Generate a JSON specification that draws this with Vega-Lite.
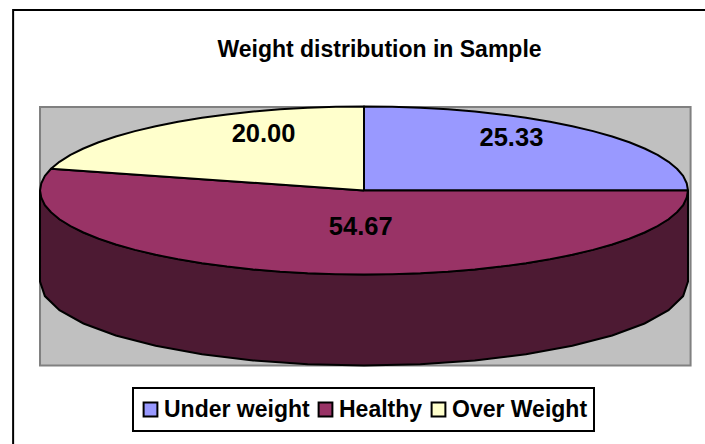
{"$schema":"https://vega.github.io/schema/vega-lite/v6.json","width":705,"height":444,"padding":0,"autosize":{"type":"none"},"background":"white","view":{"stroke":null},
"title":{"text":"Weight distribution in Sample","font":"Liberation Sans","fontWeight":"bold","fontSize":23,"color":"black","anchor":"middle","frame":"group","offset":-62,"dx":27},
"config":{"legend":{"strokeWidth":2}},
"datasets":{
"frame":[{"x":-108.3,"x2":106,"y":214.9,"y2":-304}],
"plot":[{"x":-100,"x2":100.8,"y":99.4,"y2":-208.3}],
"wall":[{"n":1,"x":-100,"y":0},{"n":2,"x":-98.5,"y":-17.4},{"n":3,"x":-94,"y":-34.2},{"n":4,"x":-86.6,"y":-50},{"n":5,"x":-76.6,"y":-64.3},{"n":6,"x":-64.3,"y":-76.6},{"n":7,"x":-50,"y":-86.6},{"n":8,"x":-34.2,"y":-94},{"n":9,"x":-17.4,"y":-98.5},{"n":10,"x":0,"y":-100},{"n":11,"x":17.4,"y":-98.5},{"n":12,"x":34.2,"y":-94},{"n":13,"x":50,"y":-86.6},{"n":14,"x":64.3,"y":-76.6},{"n":15,"x":76.6,"y":-64.3},{"n":16,"x":86.6,"y":-50},{"n":17,"x":94,"y":-34.2},{"n":18,"x":98.5,"y":-17.4},{"n":19,"x":100,"y":0},{"n":20,"x":100,"y":-108.3},{"n":21,"x":98.5,"y":-125.7},{"n":22,"x":94,"y":-142.5},{"n":23,"x":86.6,"y":-158.3},{"n":24,"x":76.6,"y":-172.6},{"n":25,"x":64.3,"y":-184.9},{"n":26,"x":50,"y":-194.9},{"n":27,"x":34.2,"y":-202.3},{"n":28,"x":17.4,"y":-206.8},{"n":29,"x":0,"y":-208.3},{"n":30,"x":-17.4,"y":-206.8},{"n":31,"x":-34.2,"y":-202.3},{"n":32,"x":-50,"y":-194.9},{"n":33,"x":-64.3,"y":-184.9},{"n":34,"x":-76.6,"y":-172.6},{"n":35,"x":-86.6,"y":-158.3},{"n":36,"x":-94,"y":-142.5},{"n":37,"x":-98.5,"y":-125.7},{"n":38,"x":-100,"y":-108.3},{"n":39,"x":-100,"y":0}],
"slices":[
{"p":"Under weight","n":1,"x":0,"y":0},{"p":"Under weight","n":2,"x":0,"y":100},{"p":"Under weight","n":3,"x":8.7,"y":99.6},{"p":"Under weight","n":4,"x":17.4,"y":98.5},{"p":"Under weight","n":5,"x":25.9,"y":96.6},{"p":"Under weight","n":6,"x":34.2,"y":94},{"p":"Under weight","n":7,"x":42.3,"y":90.6},{"p":"Under weight","n":8,"x":50,"y":86.6},{"p":"Under weight","n":9,"x":57.4,"y":81.9},{"p":"Under weight","n":10,"x":64.3,"y":76.6},{"p":"Under weight","n":11,"x":70.7,"y":70.7},{"p":"Under weight","n":12,"x":76.6,"y":64.3},{"p":"Under weight","n":13,"x":81.9,"y":57.4},{"p":"Under weight","n":14,"x":86.6,"y":50},{"p":"Under weight","n":15,"x":90.6,"y":42.3},{"p":"Under weight","n":16,"x":94,"y":34.2},{"p":"Under weight","n":17,"x":96.6,"y":25.9},{"p":"Under weight","n":18,"x":98.5,"y":17.4},{"p":"Under weight","n":19,"x":99.6,"y":8.7},{"p":"Under weight","n":20,"x":100,"y":0},{"p":"Under weight","n":21,"x":0,"y":0},
{"p":"Healthy","n":1,"x":0,"y":0},{"p":"Healthy","n":2,"x":100,"y":0},{"p":"Healthy","n":3,"x":99.6,"y":-8.7},{"p":"Healthy","n":4,"x":98.5,"y":-17.4},{"p":"Healthy","n":5,"x":96.6,"y":-25.9},{"p":"Healthy","n":6,"x":94,"y":-34.2},{"p":"Healthy","n":7,"x":90.6,"y":-42.3},{"p":"Healthy","n":8,"x":86.6,"y":-50},{"p":"Healthy","n":9,"x":81.9,"y":-57.4},{"p":"Healthy","n":10,"x":76.6,"y":-64.3},{"p":"Healthy","n":11,"x":70.7,"y":-70.7},{"p":"Healthy","n":12,"x":64.3,"y":-76.6},{"p":"Healthy","n":13,"x":57.4,"y":-81.9},{"p":"Healthy","n":14,"x":50,"y":-86.6},{"p":"Healthy","n":15,"x":42.3,"y":-90.6},{"p":"Healthy","n":16,"x":34.2,"y":-94},{"p":"Healthy","n":17,"x":25.9,"y":-96.6},{"p":"Healthy","n":18,"x":17.4,"y":-98.5},{"p":"Healthy","n":19,"x":8.7,"y":-99.6},{"p":"Healthy","n":20,"x":0,"y":-100},{"p":"Healthy","n":21,"x":-8.7,"y":-99.6},{"p":"Healthy","n":22,"x":-17.4,"y":-98.5},{"p":"Healthy","n":23,"x":-25.9,"y":-96.6},{"p":"Healthy","n":24,"x":-34.2,"y":-94},{"p":"Healthy","n":25,"x":-42.3,"y":-90.6},{"p":"Healthy","n":26,"x":-50,"y":-86.6},{"p":"Healthy","n":27,"x":-57.4,"y":-81.9},{"p":"Healthy","n":28,"x":-64.3,"y":-76.6},{"p":"Healthy","n":29,"x":-70.7,"y":-70.7},{"p":"Healthy","n":30,"x":-76.6,"y":-64.3},{"p":"Healthy","n":31,"x":-81.9,"y":-57.4},{"p":"Healthy","n":32,"x":-86.6,"y":-50},{"p":"Healthy","n":33,"x":-90.6,"y":-42.3},{"p":"Healthy","n":34,"x":-94,"y":-34.2},{"p":"Healthy","n":35,"x":-96.6,"y":-25.9},{"p":"Healthy","n":36,"x":-98.5,"y":-17.4},{"p":"Healthy","n":37,"x":-99.6,"y":-8.7},{"p":"Healthy","n":38,"x":-100,"y":0},{"p":"Healthy","n":39,"x":-99.6,"y":8.7},{"p":"Healthy","n":40,"x":-98.5,"y":17.4},{"p":"Healthy","n":41,"x":-96.6,"y":25.9},{"p":"Healthy","n":42,"x":0,"y":0},
{"p":"Over Weight","n":1,"x":0,"y":0},{"p":"Over Weight","n":2,"x":-96.6,"y":25.9},{"p":"Over Weight","n":3,"x":-94,"y":34.2},{"p":"Over Weight","n":4,"x":-90.6,"y":42.3},{"p":"Over Weight","n":5,"x":-86.6,"y":50},{"p":"Over Weight","n":6,"x":-81.9,"y":57.4},{"p":"Over Weight","n":7,"x":-76.6,"y":64.3},{"p":"Over Weight","n":8,"x":-70.7,"y":70.7},{"p":"Over Weight","n":9,"x":-64.3,"y":76.6},{"p":"Over Weight","n":10,"x":-57.4,"y":81.9},{"p":"Over Weight","n":11,"x":-50,"y":86.6},{"p":"Over Weight","n":12,"x":-42.3,"y":90.6},{"p":"Over Weight","n":13,"x":-34.2,"y":94},{"p":"Over Weight","n":14,"x":-25.9,"y":96.6},{"p":"Over Weight","n":15,"x":-17.4,"y":98.5},{"p":"Over Weight","n":16,"x":-8.7,"y":99.6},{"p":"Over Weight","n":17,"x":0,"y":100},{"p":"Over Weight","n":18,"x":0,"y":0}],
"labels":[{"p":"Under weight","value":"25.33","x":45.5,"y":62},{"p":"Healthy","value":"54.67","x":-1,"y":-44},{"p":"Over Weight","value":"20.00","x":-31,"y":67}]
},
"layer":[
{"data":{"name":"frame"},"mark":{"type":"rect","fill":"white","stroke":"black","strokeWidth":2},"encoding":{"x":{"field":"x","type":"quantitative","scale":{"domain":[-112.35,105.25],"nice":false,"zero":false},"axis":null},"x2":{"field":"x2"},"y":{"field":"y","type":"quantitative","scale":{"domain":[-301.8,226.8],"nice":false,"zero":false},"axis":null},"y2":{"field":"y2"}}},
{"data":{"name":"plot"},"mark":{"type":"rect","fill":"#C0C0C0","stroke":"#808080","strokeWidth":2},"encoding":{"x":{"field":"x","type":"quantitative","axis":null},"x2":{"field":"x2"},"y":{"field":"y","type":"quantitative","axis":null},"y2":{"field":"y2"}}},
{"data":{"name":"wall"},"mark":{"type":"line","fill":"#4D1A33","stroke":"black","strokeWidth":2},"encoding":{"x":{"field":"x","type":"quantitative","axis":null},"y":{"field":"y","type":"quantitative","axis":null},"order":{"field":"n","type":"quantitative"}}},
{"data":{"name":"slices"},"mark":{"type":"line","stroke":"black","strokeWidth":2,"strokeJoin":"round"},"encoding":{"x":{"field":"x","type":"quantitative","axis":null},"y":{"field":"y","type":"quantitative","axis":null},"order":{"field":"n","type":"quantitative"},
"fill":{"field":"p","type":"nominal","scale":{"domain":["Under weight","Healthy","Over Weight"],"range":["#9999FF","#993366","#FFFFCC"]},"legend":{"title":null,"orient":"none","legendX":133,"legendY":388,"direction":"horizontal","symbolType":"square","symbolSize":190,"symbolStrokeColor":"black","symbolStrokeWidth":2,"symbolOpacity":1,"labelFont":"Liberation Sans","labelFontWeight":"bold","labelFontSize":23,"labelOffset":2,"labelColor":"black","labelLimit":0,"columnPadding":4,"padding":6,"clipHeight":31,"fillColor":"white","strokeColor":"black","values":["Under weight","Healthy","Over Weight"]}}}},
{"data":{"name":"labels"},"mark":{"type":"text","font":"Liberation Sans","fontWeight":"bold","fontSize":25.5,"color":"black","baseline":"middle"},"encoding":{"x":{"field":"x","type":"quantitative","axis":null},"y":{"field":"y","type":"quantitative","axis":null},"text":{"field":"value","type":"nominal"}}}
],
"resolve":{"scale":{"x":"shared","y":"shared"}}}
